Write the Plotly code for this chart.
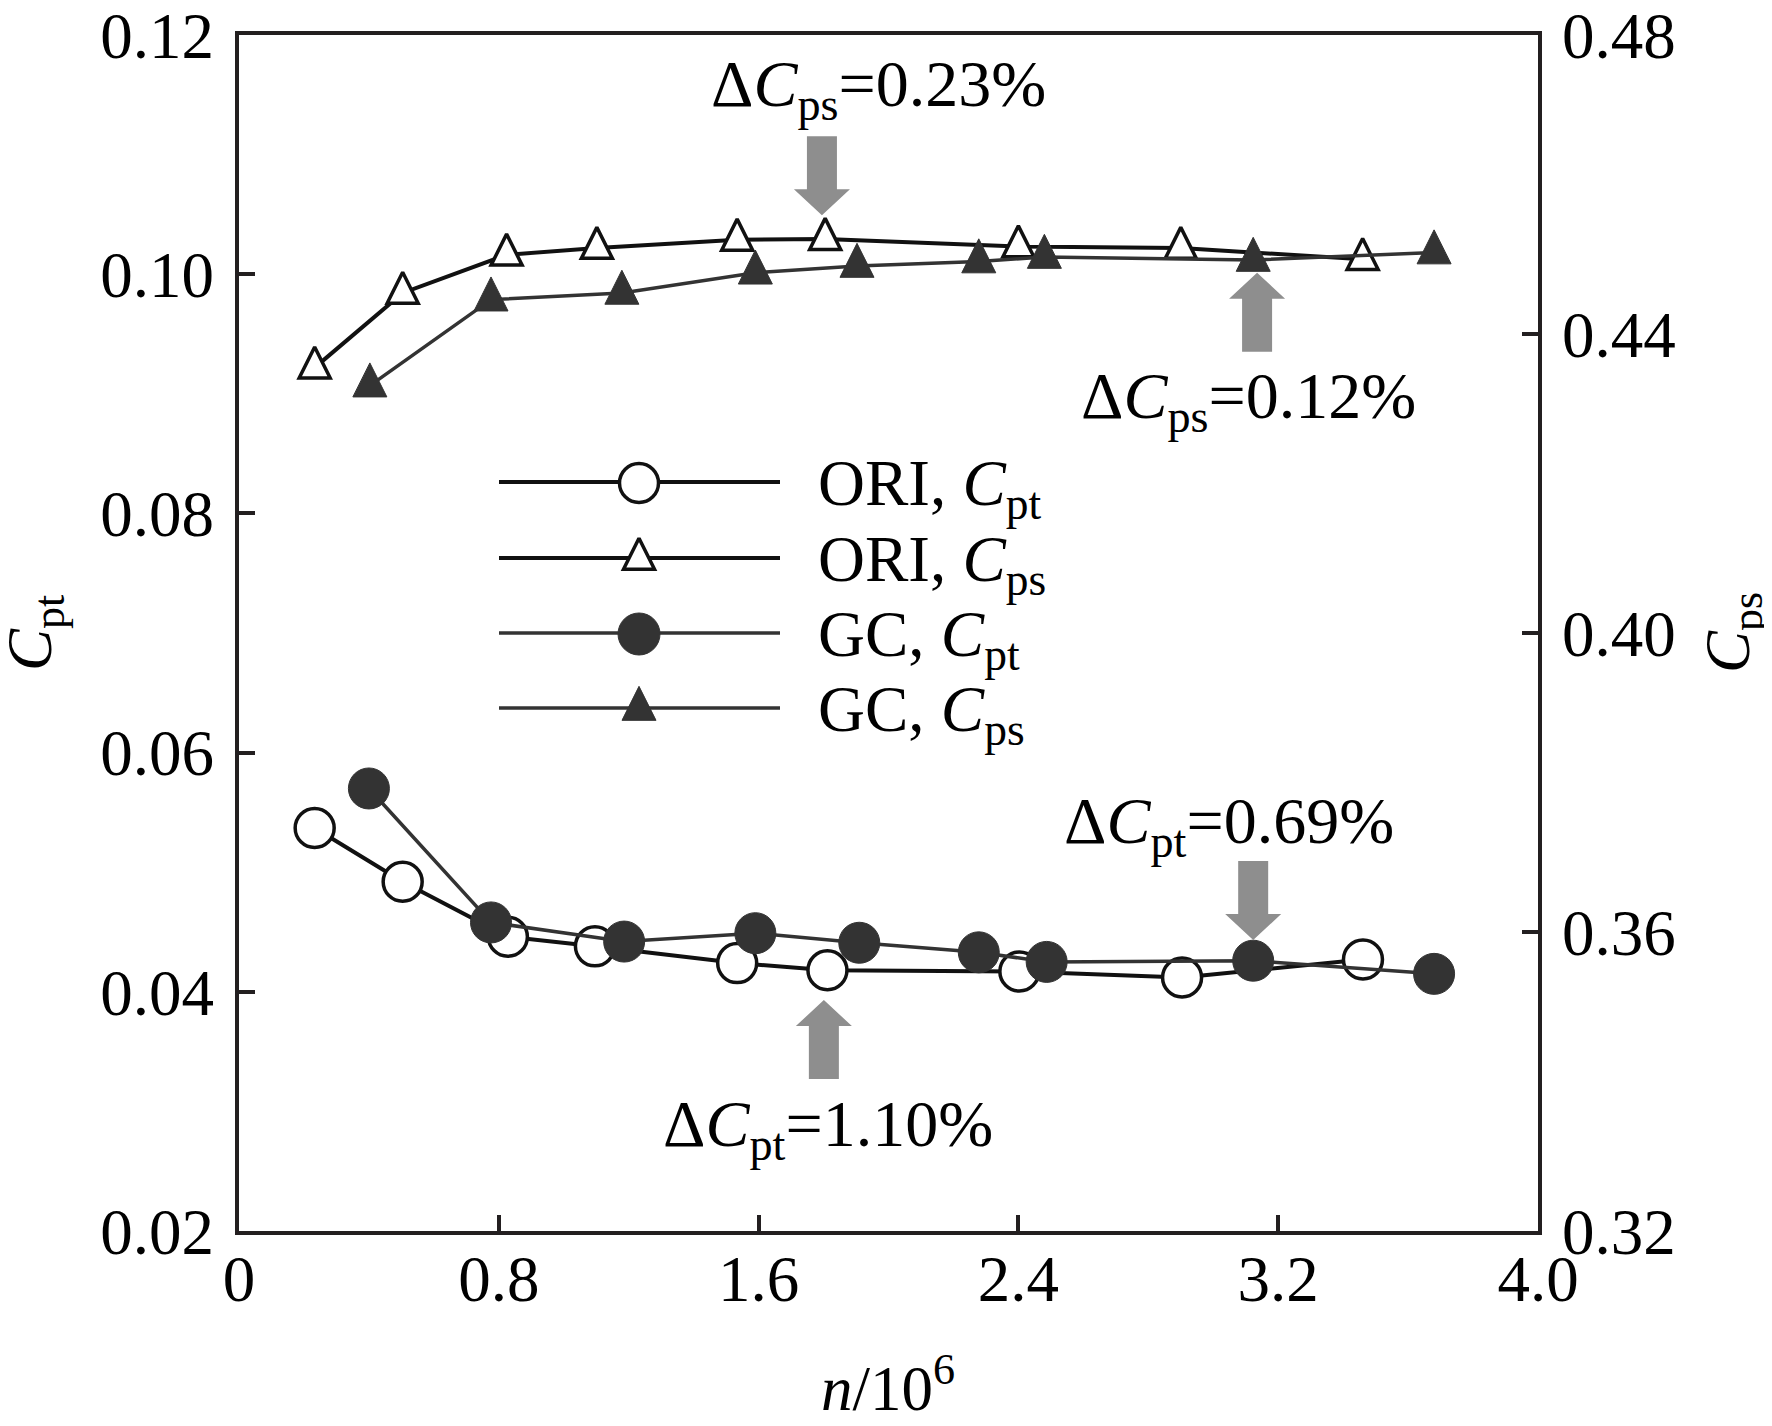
import plotly.graph_objects as go

# ---------------- data ----------------
ori_cpt_x = [0.233, 0.504, 0.828, 1.096, 1.534, 1.812, 2.403, 2.904, 3.461]
ori_cpt_y = [0.0537, 0.0492, 0.0446, 0.0438, 0.0424, 0.0418, 0.0417, 0.0412, 0.0427]

gc_cpt_x = [0.400, 0.776, 1.186, 1.590, 1.910, 2.278, 2.487, 3.123, 3.680]
gc_cpt_y = [0.0570, 0.0458, 0.0442, 0.0449, 0.0441, 0.0433, 0.0425, 0.0426, 0.0415]

ori_cps_x = [0.233, 0.504, 0.824, 1.102, 1.534, 1.805, 2.400, 2.900, 3.460]
ori_cps_y = [0.4355, 0.4455, 0.4506, 0.4515, 0.4526, 0.4527, 0.4517, 0.4515, 0.4500]

gc_cps_x = [0.403, 0.776, 1.179, 1.590, 1.903, 2.278, 2.480, 3.123, 3.680]
gc_cps_y = [0.4331, 0.4446, 0.4455, 0.4482, 0.4491, 0.4497, 0.4503, 0.4499, 0.4509]

x_ticks = [0, 0.8, 1.6, 2.4, 3.2, 4.0]
x_tick_labels = ["0", "0.8", "1.6", "2.4", "3.2", "4.0"]
cpt_ticks = [0.02, 0.04, 0.06, 0.08, 0.10, 0.12]
cpt_tick_labels = ["0.02", "0.04", "0.06", "0.08", "0.10", "0.12"]
cps_ticks = [0.32, 0.36, 0.40, 0.44, 0.48]
cps_tick_labels = ["0.32", "0.36", "0.40", "0.44", "0.48"]

legend_names = ["ORI, <i>C</i><sub>pt</sub>", "ORI, <i>C</i><sub>ps</sub>",
                "GC, <i>C</i><sub>pt</sub>", "GC, <i>C</i><sub>ps</sub>"]

# arrow annotations: x, y of tip, axis, direction, text
arrow_x = [1.795, 3.135, 3.123, 1.801]
arrow_y = [0.4559, 0.4482, 0.04433, 0.03931]
arrow_axis = ["y2", "y2", "y", "y"]
arrow_dir = ["down", "up", "down", "up"]
delta_texts = ["Δ<i>C</i><sub>ps</sub>=0.23%", "Δ<i>C</i><sub>ps</sub>=0.12%",
               "Δ<i>C</i><sub>pt</sub>=0.69%", "Δ<i>C</i><sub>pt</sub>=1.10%"]

# ---------------- layout constants ----------------
PAGE_W, PAGE_H = 1772, 1426
OX, OY = 8, 8                      # page body margin
W, H = PAGE_W - 2 * OX, PAGE_H - 2 * OY
L, R, T, B = 239, 1538, 35, 1231   # plot area on screen
FONT = "Liberation Serif"
FS = 65
BLACK = "#111111"
GC_COL = "#333333"
AX_COL = "#231f20"


def px_x(p):
    return (p - L) / (R - L)


def px_y(p):
    return 1 - (p - T) / (B - T)


def tri_marker(size, fill, lc, lw):
    # tall triangle (arrow-down rotated), centroid on the data point
    return dict(symbol="arrow-down", angle=180, size=size, standoff=size * 2 / 3,
                color=fill, line=dict(color=lc, width=lw))


fig = go.Figure()

# ORI Cpt
fig.add_trace(go.Scatter(x=ori_cpt_x, y=ori_cpt_y, mode="lines+markers",
                         line=dict(color=BLACK, width=4),
                         marker=dict(symbol="circle", size=39, color="white",
                                     line=dict(color=BLACK, width=3.5)),
                         showlegend=False))
# ORI Cps
fig.add_trace(go.Scatter(x=ori_cps_x, y=ori_cps_y, mode="lines+markers", yaxis="y2",
                         line=dict(color=BLACK, width=4),
                         marker=tri_marker(31, "white", BLACK, 3.5),
                         showlegend=False))
# GC Cpt
fig.add_trace(go.Scatter(x=gc_cpt_x, y=gc_cpt_y, mode="lines+markers",
                         line=dict(color=GC_COL, width=3.5),
                         marker=dict(symbol="circle", size=41, color=GC_COL,
                                     line=dict(color=GC_COL, width=1)),
                         showlegend=False))
# GC Cps
fig.add_trace(go.Scatter(x=gc_cps_x, y=gc_cps_y, mode="lines+markers", yaxis="y2",
                         line=dict(color=GC_COL, width=3.5),
                         marker=tri_marker(34, GC_COL, GC_COL, 1),
                         showlegend=False))

# ---------------- manual legend on pixel overlay axes ----------------
leg_rows = [482, 558, 633, 708]
leg_markers = [
    dict(symbol="circle", size=39, color="white", line=dict(color=BLACK, width=3.5)),
    tri_marker(31, "white", BLACK, 3.5),
    dict(symbol="circle", size=42, color=GC_COL, line=dict(color=GC_COL, width=1)),
    tri_marker(34, GC_COL, GC_COL, 1),
]
leg_lines = [dict(color=BLACK, width=4), dict(color=BLACK, width=4),
             dict(color=GC_COL, width=3.5), dict(color=GC_COL, width=3.5)]
for yrow, mk, ln, name in zip(leg_rows, leg_markers, leg_lines, legend_names):
    fig.add_trace(go.Scatter(x=[499, 780], y=[yrow, yrow], mode="lines",
                             xaxis="x2", yaxis="y3", line=ln,
                             showlegend=False, hoverinfo="skip"))
    fig.add_trace(go.Scatter(x=[639], y=[yrow + 1], mode="markers",
                             xaxis="x2", yaxis="y3", marker=mk,
                             showlegend=False, hoverinfo="skip"))
    fig.add_annotation(x=px_x(816), y=px_y(yrow + 6), xref="paper", yref="paper",
                       text=name, showarrow=False, xanchor="left", yanchor="middle",
                       font=dict(family=FONT, size=FS, color="black"))

# ---------------- arrows ----------------
HW, BW, HH, TL = 28, 15, 26, 79


def arrow_path(direction):
    s = 1 if direction == "down" else -1
    pts = [(0, 0), (-HW, HH), (-BW, HH), (-BW, TL), (BW, TL), (BW, HH), (HW, HH)]
    return "M" + " L".join(f"{x},{s * y}" for x, y in pts) + " Z"


for ax_, ay_, yr, d in zip(arrow_x, arrow_y, arrow_axis, arrow_dir):
    fig.add_shape(type="path", path=arrow_path(d), xref="x", yref=yr,
                  xsizemode="pixel", ysizemode="pixel", xanchor=ax_, yanchor=ay_,
                  fillcolor="#8e8e8e", line=dict(width=0), layer="above")

text_pos = [(878, 88), (1248, 400), (1229, 826), (828, 1128)]
for (tx, ty), txt in zip(text_pos, delta_texts):
    fig.add_annotation(x=px_x(tx), y=px_y(ty), xref="paper", yref="paper",
                       text=txt, showarrow=False, xanchor="center", yanchor="middle",
                       font=dict(family=FONT, size=FS + 1, color="black"))

# ---------------- axis titles ----------------
fig.add_annotation(x=px_x(34), y=px_y(633), xref="paper", yref="paper",
                   text="<i>C</i><sub>pt</sub>", showarrow=False, textangle=-90,
                   xanchor="center", yanchor="middle",
                   font=dict(family=FONT, size=FS - 2, color="black"))
fig.add_annotation(x=px_x(1732), y=px_y(633), xref="paper", yref="paper",
                   text="<i>C</i><sub>ps</sub>", showarrow=False, textangle=-90,
                   xanchor="center", yanchor="middle",
                   font=dict(family=FONT, size=FS - 2, color="black"))
fig.add_annotation(x=px_x(888), y=px_y(1384), xref="paper", yref="paper",
                   text="<i>n</i>/10<sup>6</sup>", showarrow=False,
                   xanchor="center", yanchor="middle",
                   font=dict(family=FONT, size=FS - 2, color="black"))

axis_common = dict(showline=True, linecolor=AX_COL, linewidth=4, ticks="inside",
                   ticklen=16, tickwidth=3.5, tickcolor=AX_COL, showgrid=False,
                   zeroline=False, ticklabeloverflow="allow", automargin=False,
                   tickfont=dict(family=FONT, size=FS, color="black"))

fig.update_layout(
    width=W, height=H,
    margin=dict(l=L - OX, r=W - (R - OX), t=T - OY, b=H - (B - OY), pad=0,
                autoexpand=False),
    paper_bgcolor="white", plot_bgcolor="white",
    showlegend=False,
    xaxis=dict(range=[0, 4.0], tickvals=x_ticks, ticktext=x_tick_labels,
               mirror=True, ticklabelstandoff=-12, **axis_common),
    yaxis=dict(range=[0.02, 0.12], tickvals=cpt_ticks, ticktext=cpt_tick_labels,
               ticklabelstandoff=8, **axis_common),
    yaxis2=dict(range=[0.32, 0.48], tickvals=cps_ticks, ticktext=cps_tick_labels,
                overlaying="y", side="right", ticklabelstandoff=7, **axis_common),
    xaxis2=dict(range=[L, R], overlaying="x", visible=False),
    yaxis3=dict(range=[B, T], overlaying="y", visible=False),
)

fig.write_html("out.html")
